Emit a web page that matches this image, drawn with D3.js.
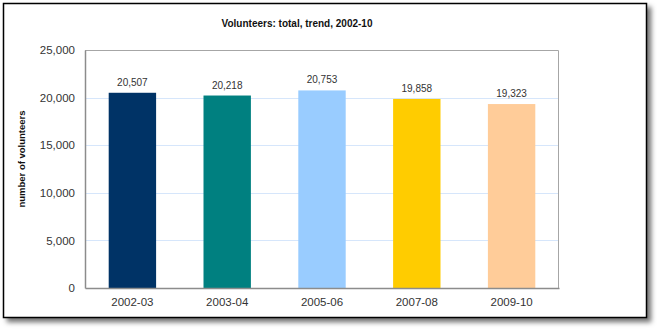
<!DOCTYPE html>
<html>
<head>
<meta charset="utf-8">
<script src="https://cdn.jsdelivr.net/npm/d3@7"></script>
<style>
  html, body { margin: 0; padding: 0; background: #fff; }
  svg { display: block; }
  text { font-family: "Liberation Sans", Arial, sans-serif; }
</style>
</head>
<body>
<svg id="chart" width="657" height="329"></svg>
<script>
// Volunteer totals by survey year
const years = ["2002-03", "2003-04", "2005-06", "2007-08", "2009-10"];
const volunteers = [20507, 20218, 20753, 19858, 19323];
const barColors = ["#003366", "#008080", "#99ccff", "#ffcc00", "#ffcc99"];
const yTicks = [0, 5000, 10000, 15000, 20000, 25000];
const title = "Volunteers: total, trend, 2002-10";
const yLabel = "number of volunteers";

const svg = d3.select("#chart");
const W = 657, H = 329;

// framed panel with a soft drop shadow
const defs = svg.append("defs");
const f = defs.append("filter").attr("id", "shadow")
  .attr("x", "-5%").attr("y", "-5%").attr("width", "115%").attr("height", "120%");
f.append("feDropShadow").attr("dx", 4).attr("dy", 4).attr("stdDeviation", 2.5)
  .attr("flood-color", "#000").attr("flood-opacity", 0.55);

svg.append("rect")
  .attr("x", 3.5).attr("y", 3.5).attr("width", 643).attr("height", 314)
  .attr("fill", "#fff").attr("stroke", "#000").attr("stroke-width", 1.5)
  .attr("filter", "url(#shadow)");

const plot = { left: 85, top: 50, right: 559, bottom: 288 };

const x = d3.scaleBand().domain(years)
  .range([plot.left, plot.right]).paddingInner(0.5).paddingOuter(0.25);
const y = d3.scaleLinear().domain([0, 25000]).range([plot.bottom, plot.top]);

// gridlines
svg.append("g").selectAll("line").data(yTicks.filter(d => d > 0 && d < 25000))
  .join("line")
  .attr("x1", plot.left).attr("x2", plot.right)
  .attr("y1", d => Math.round(y(d)) + 0.5).attr("y2", d => Math.round(y(d)) + 0.5)
  .attr("stroke", "#d6e6fb").attr("stroke-width", 1.2);

// plot frame: lighter top/right, darker left/bottom
svg.append("path")
  .attr("d", `M${plot.left},${plot.top + 0.5}H${plot.right - 0.5}V${plot.bottom}`)
  .attr("fill", "none").attr("stroke", "#a6a6a6").attr("stroke-width", 1);

// bars
svg.append("g").selectAll("rect").data(volunteers).join("rect")
  .attr("x", (d, i) => x(years[i]))
  .attr("y", d => y(d))
  .attr("width", x.bandwidth())
  .attr("height", d => y(0) - y(d))
  .attr("fill", (d, i) => barColors[i]);

// value labels
const fmt = d3.format(",");
svg.append("g").selectAll("text").data(volunteers).join("text")
  .attr("x", (d, i) => x(years[i]) + x.bandwidth() / 2)
  .attr("y", d => y(d) - 7)
  .attr("text-anchor", "middle")
  .attr("font-size", 10).attr("fill", "#333")
  .text(d => fmt(d));

// axes
const yAxis = d3.axisLeft(y).tickValues(yTicks).tickFormat(fmt).tickSize(0).tickPadding(10);
const gy = svg.append("g").attr("transform", `translate(${plot.left},0)`).call(yAxis);
gy.select(".domain").attr("stroke", "#8c8c8c").attr("stroke-width", 1.5);
gy.selectAll("text").attr("font-size", 11.5).attr("fill", "#333")
  .attr("font-family", "Liberation Sans, Arial, sans-serif");

const xAxis = d3.axisBottom(x).tickSize(0).tickPadding(10);
const gx = svg.append("g").attr("transform", `translate(0,${plot.bottom})`).call(xAxis);
gx.select(".domain").attr("stroke", "#8c8c8c").attr("stroke-width", 1.5);
gx.selectAll("text").attr("font-size", 11.5).attr("fill", "#333")
  .attr("font-family", "Liberation Sans, Arial, sans-serif");

// title
svg.append("text")
  .attr("x", 297).attr("y", 27)
  .attr("text-anchor", "middle")
  .attr("font-size", 10).attr("font-weight", "bold").attr("fill", "#111")
  .text(title);

// y axis title
svg.append("text")
  .attr("transform", `translate(25,${(plot.top + plot.bottom) / 2 - 10}) rotate(-90)`)
  .attr("text-anchor", "middle")
  .attr("font-size", 9.5).attr("font-weight", "bold").attr("fill", "#111")
  .text(yLabel);
</script>
</body>
</html>
